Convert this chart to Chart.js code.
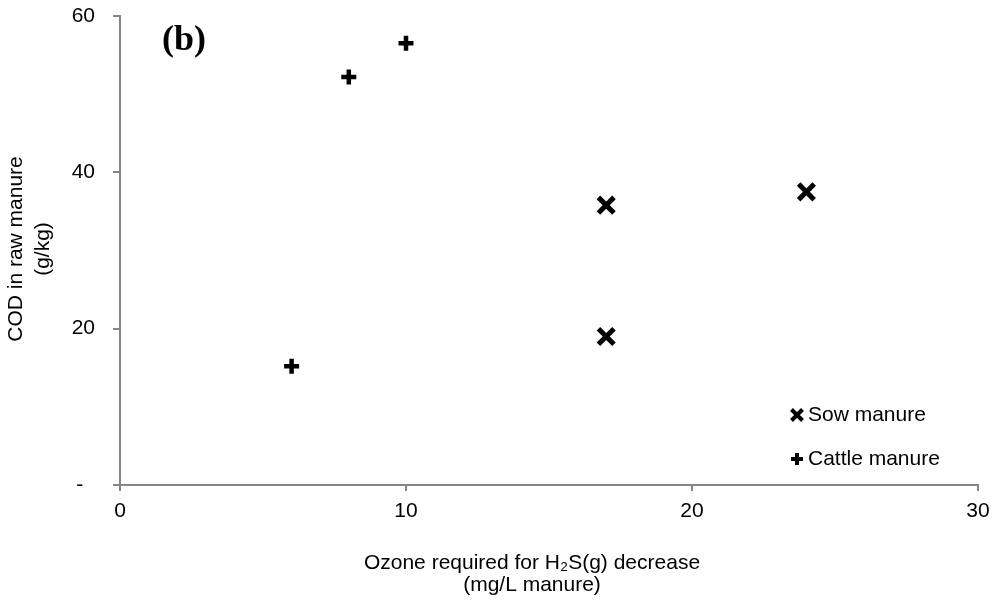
<!DOCTYPE html>
<html>
<head>
<meta charset="utf-8">
<script src="https://cdn.jsdelivr.net/npm/chart.js@4.4.1/dist/chart.umd.min.js"></script>
<style>
  html, body { margin: 0; padding: 0; background: #fff; }
  #wrap { width: 1000px; height: 608px; }
</style>
</head>
<body>
<div id="wrap"><canvas id="chart"></canvas></div>
<script>
// Données
const sowX = [17, 17, 24];
const sowY = [35.8, 19.0, 37.5];
const cattleX = [6, 8, 10];
const cattleY = [15.2, 52.2, 56.5];
const xTicks = [0, 10, 20, 30];
const yTicks = [0, 20, 40, 60];
const seriesNames = ['Sow manure', 'Cattle manure'];

const AXIS = '#868686';
const FONT = '"Liberation Sans", Arial, sans-serif';

function toPoints(xs, ys) {
    return xs.map((x, i) => ({ x: x, y: ys[i] }));
}

// Titres, étiquette (b) et légende dans la zone du graphique
const overlay = {
    id: 'overlay',
    afterDraw(chart) {
        const ctx = chart.ctx;
        ctx.save();
        ctx.fillStyle = '#000';

        // (b)
        ctx.font = 'bold 36px "Liberation Serif", "Times New Roman", serif';
        ctx.textAlign = 'left';
        ctx.textBaseline = 'alphabetic';
        ctx.fillText('(b)', 162, 50);

        // titre axe x
        ctx.font = '21px ' + FONT;
        ctx.textAlign = 'center';
        ctx.textBaseline = 'middle';
        ctx.fillText('Ozone required for H\u2082S(g) decrease', 532, 563);
        ctx.fillText('(mg/L manure)', 532, 585);

        // titre axe y
        ctx.save();
        ctx.translate(16, 249);
        ctx.rotate(-Math.PI / 2);
        ctx.fillText('COD in raw manure', 0, 0);
        ctx.fillText('(g/kg)', 0, 27);
        ctx.restore();

        // légende
        const lx = 797;
        const rows = [415, 459];
        ctx.strokeStyle = '#000';
        ctx.lineWidth = 4;
        ctx.beginPath();
        ctx.moveTo(lx - 5.5, rows[0] - 5.5);
        ctx.lineTo(lx + 5.5, rows[0] + 5.5);
        ctx.moveTo(lx + 5.5, rows[0] - 5.5);
        ctx.lineTo(lx - 5.5, rows[0] + 5.5);
        ctx.stroke();
        ctx.beginPath();
        ctx.moveTo(lx - 6, rows[1]);
        ctx.lineTo(lx + 6, rows[1]);
        ctx.moveTo(lx, rows[1] - 6);
        ctx.lineTo(lx, rows[1] + 6);
        ctx.stroke();

        ctx.textAlign = 'left';
        ctx.fillText(seriesNames[0], lx + 11, rows[0]);
        ctx.fillText(seriesNames[1], lx + 11, rows[1]);
        ctx.restore();
    }
};

new Chart(document.getElementById('chart'), {
    type: 'scatter',
    data: {
        datasets: [
            {
                label: seriesNames[0],
                data: toPoints(sowX, sowY),
                pointStyle: 'crossRot',
                pointRadius: 11,
                pointHoverRadius: 11,
                pointBorderWidth: 5,
                borderColor: '#000',
                backgroundColor: '#000'
            },
            {
                label: seriesNames[1],
                data: toPoints(cattleX, cattleY),
                pointStyle: 'cross',
                pointRadius: 7.5,
                pointHoverRadius: 7.5,
                pointBorderWidth: 4.5,
                borderColor: '#000',
                backgroundColor: '#000'
            }
        ]
    },
    options: {
        responsive: true,
        maintainAspectRatio: false,
        animation: false,
        layout: { padding: { top: 16, right: 22, left: 0, bottom: 0 } },
        plugins: {
            legend: { display: false },
            tooltip: { enabled: false }
        },
        scales: {
            x: {
                type: 'linear',
                min: 0,
                max: 30,
                afterBuildTicks: axis => { axis.ticks = xTicks.map(v => ({ value: v })); },
                ticks: {
                    color: '#000',
                    font: { family: FONT, size: 21 },
                    padding: 8
                },
                grid: {
                    display: true,
                    drawOnChartArea: false,
                    drawTicks: true,
                    tickLength: 6,
                    color: AXIS,
                    lineWidth: 2
                },
                border: { color: AXIS, width: 2 },
                afterFit: axis => {
                    axis.height = 123;
                    axis.paddingLeft = 0;
                    axis.paddingRight = 0;
                }
            },
            y: {
                type: 'linear',
                min: 0,
                max: 60,
                afterBuildTicks: axis => { axis.ticks = yTicks.map(v => ({ value: v })); },
                ticks: {
                    color: '#000',
                    font: { family: FONT, size: 21 },
                    padding: 18,
                    callback: v => (v === 0 ? '-  ' : v)
                },
                grid: {
                    display: true,
                    drawOnChartArea: false,
                    drawTicks: true,
                    tickLength: 7,
                    color: AXIS,
                    lineWidth: 2
                },
                border: { color: AXIS, width: 2 },
                afterFit: axis => {
                    axis.width = 120;
                    axis.paddingTop = 0;
                    axis.paddingBottom = 0;
                }
            }
        }
    },
    plugins: [overlay]
});
</script>
</body>
</html>
